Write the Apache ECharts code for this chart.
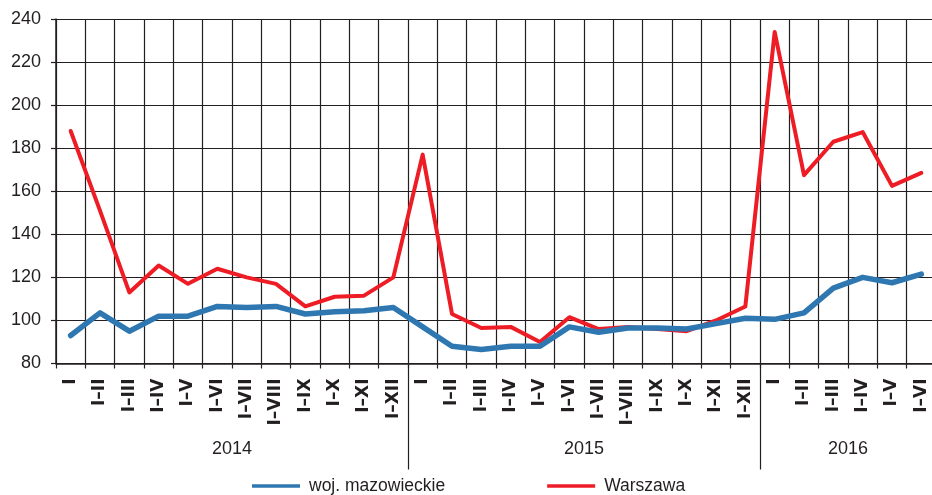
<!DOCTYPE html>
<html>
<head>
<meta charset="utf-8">
<script src="https://cdn.jsdelivr.net/npm/echarts@6/dist/echarts.min.js"></script>
<style>
  html, body { margin: 0; padding: 0; background: #fff; }
  #chart { width: 932px; height: 495px; }
</style>
</head>
<body>
<div id="chart"></div>
<script>
const periods = [
  'I', 'I–II', 'I–III', 'I–IV', 'I–V', 'I–VI', 'I–VII', 'I–VIII', 'I–IX', 'I–X', 'I–XI', 'I–XII',
  'I', 'I–II', 'I–III', 'I–IV', 'I–V', 'I–VI', 'I–VII', 'I–VIII', 'I–IX', 'I–X', 'I–XI', 'I–XII',
  'I', 'I–II', 'I–III', 'I–IV', 'I–V', 'I–VI'
]
const years = ['2014', '2015', '2016']
const periodsPerYear = [12, 12, 6]

const mazowieckie = [
  93, 103.5, 95, 102, 102, 106.5, 106, 106.5, 103, 104, 104.5, 106,
  97, 88, 86.5, 88, 88, 97, 94.5, 96.5, 96.5, 96, 98.5, 101,
  100.5, 103.5, 115, 120, 117.5, 121.5
]
const warszawa = [
  188, 151, 113, 125.5, 117, 124, 120, 117, 106.5, 111, 111.5, 120,
  177, 103, 96.5, 97, 90, 101.5, 96, 97, 96, 95, 100, 106.5,
  234, 167.5, 183, 187.5, 162.5, 168.5
]

const ink = '#231f20'

// year axis: one slot per category boundary, labels centred on each year's span
const boundaries = new Array(periods.length + 1).fill('')
const yearTicks = []
let start = 0
years.forEach((year, i) => {
  boundaries[start + periodsPerYear[i] / 2] = year
  if (start > 0) yearTicks.push(start)
  start += periodsPerYear[i]
})

const chart = echarts.init(document.getElementById('chart'))

chart.setOption({
  animation: false,
  textStyle: { fontFamily: 'Liberation Sans, Arial, sans-serif' },
  // the plot runs a little past the right edge of the picture
  grid: { left: 56, width: 880, top: 19, bottom: 131.5, outerBoundsMode: 'none' },
  legend: {
    left: 247,
    top: 472,
    icon: 'rect',
    itemWidth: 48,
    itemHeight: 3.5,
    itemGap: 102,
    textStyle: { color: ink, fontSize: 17.5, padding: [0, 0, 0, 4] },
    data: ['woj. mazowieckie', 'Warszawa']
  },
  xAxis: [
    {
      type: 'category',
      data: periods,
      boundaryGap: true,
      axisLine: { lineStyle: { color: ink, width: 1.5 } },
      axisTick: { show: true, interval: 0, length: 5, lineStyle: { color: ink, width: 1.2 } },
      axisLabel: {
        interval: 0,
        rotate: 90,
        margin: 15,
        color: ink,
        fontFamily: 'DejaVu Sans',
        fontWeight: 'bold',
        fontSize: 17
      },
      splitLine: { show: true, interval: 0, lineStyle: { color: ink, width: 1.2 } }
    },
    {
      type: 'category',
      data: boundaries,
      boundaryGap: false,
      position: 'bottom',
      axisLine: { show: false },
      axisTick: {
        show: true,
        interval: (index) => yearTicks.includes(index),
        length: 106,
        lineStyle: { color: ink, width: 1.2 }
      },
      axisLabel: {
        interval: (index, value) => value !== '',
        margin: 77,
        color: ink,
        fontSize: 18
      },
      splitLine: { show: false }
    }
  ],
  yAxis: {
    type: 'value',
    min: 80,
    max: 240,
    interval: 20,
    axisLine: { show: true, lineStyle: { color: ink, width: 1.5 } },
    axisTick: { show: true, length: 5, lineStyle: { color: ink, width: 1.2 } },
    axisLabel: { color: ink, fontSize: 18, margin: 15 },
    splitLine: { lineStyle: { color: ink, width: 1.2 } }
  },
  series: [
    {
      name: 'woj. mazowieckie',
      type: 'line',
      data: mazowieckie,
      showSymbol: false,
      z: 4,
      color: '#2f77b1',
      lineStyle: { width: 5.5, cap: 'round', join: 'round' }
    },
    {
      name: 'Warszawa',
      type: 'line',
      data: warszawa,
      showSymbol: false,
      z: 3,
      color: '#ee1d25',
      lineStyle: { width: 4, cap: 'round', join: 'round' }
    }
  ]
})
</script>
</body>
</html>
